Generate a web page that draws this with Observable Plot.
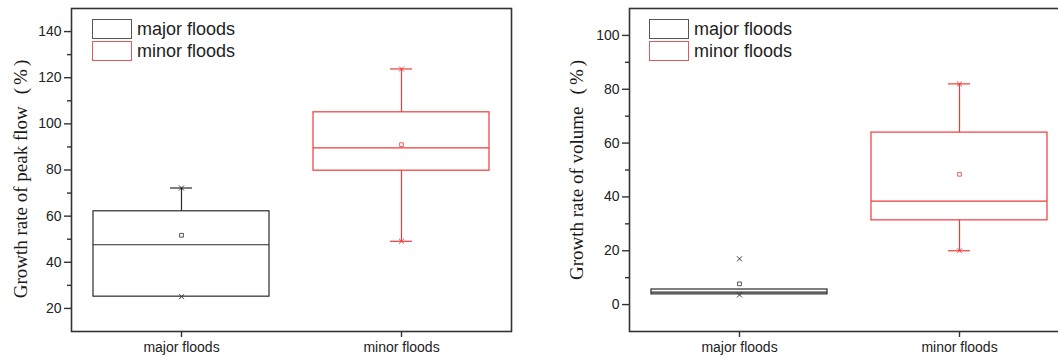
<!DOCTYPE html>
<html>
<head>
<meta charset="utf-8">
<script src="https://cdn.jsdelivr.net/npm/d3@7"></script>
<script src="https://cdn.jsdelivr.net/npm/@observablehq/plot@0.6"></script>
<style>
  html, body { margin: 0; padding: 0; background: #fff; overflow: hidden; }
  #root { position: relative; width: 1058px; height: 357px; overflow: hidden; background: #fff; }
  .panel { position: absolute; top: 0; height: 357px; }
  .ylab { position: absolute; white-space: nowrap; font-family: "Liberation Serif", "Times New Roman", serif; font-size: 19px; line-height: 20px; color: #1a1a1a; transform: translate(-50%, -50%) rotate(-90deg); }
  .ylab .po { margin-left: 12px; margin-right: 3px; }
  .ylab .pc { margin-left: 3px; margin-right: 6px; }
  .leg { position: absolute; font-family: "Liberation Sans", Arial, sans-serif; font-size: 18px; color: #222; }
  .legbox { position: absolute; width: 38px; height: 18px; box-sizing: content-box; }
  .legtxt { position: absolute; white-space: nowrap; line-height: 20px; }
</style>
</head>
<body>
<div id="root"></div>
<script>
// ---- data ----
const categories = ["major floods", "minor floods"];
const colors = ["#2a2a2a", "#f03a3a"];

// Panel 1: growth rate of peak flow (%)
const peakQ1 = [25.1, 79.7];
const peakMedian = [47.6, 89.6];
const peakQ3 = [62.1, 105.0];
const peakLow = [25.1, 49.1];
const peakHigh = [72.2, 123.8];
const peakMean = [51.7, 91.0];
const peakCrossMajor = [72.2, 25.1];
const peakCrossMinor = [123.8, 49.1];
const peakTicks = [20, 40, 60, 80, 100, 120, 140];
const peakMinorTicks = [30, 50, 70, 90, 110, 130];

// Panel 2: growth rate of volume (%)
const volQ1 = [3.8, 31.3];
const volMedian = [4.6, 38.4];
const volQ3 = [5.6, 63.9];
const volLow = [3.8, 20.0];
const volHigh = [5.6, 82.0];
const volMean = [7.7, 48.4];
const volCrossMajor = [17.0, 3.6];
const volCrossMinor = [82.0, 20.0];
const volTicks = [0, 20, 40, 60, 80, 100];
const volMinorTicks = [10, 30, 50, 70, 90];

const legendLabels = ["major floods", "minor floods"];
const yLabels = ["Growth rate of peak flow", "Growth rate of volume"];

function buildRows(q1, med, q3, lo, hi, mean) {
  return categories.map((c, i) => ({cat: c, q1: q1[i], median: med[i], q3: q3[i], lo: lo[i], hi: hi[i], mean: mean[i]}));
}
function buildCross(a, b) {
  return [...a.map(v => ({cat: categories[0], v})), ...b.map(v => ({cat: categories[1], v}))];
}

function makePanel(opts) {
  const rows = buildRows(...opts.stats);
  const crosses = buildCross(opts.crossA, opts.crossB);
  const bw = 176, capW = 22, capInset = (bw - capW) / 2;
  return Plot.plot({
    width: opts.width,
    height: 357,
    marginLeft: opts.marginLeft,
    marginRight: opts.marginRight,
    marginTop: 8,
    marginBottom: 26,
    style: {fontFamily: "Liberation Sans, Arial, sans-serif", fontSize: "14px", color: "#222", background: "white", maxWidth: "none", overflow: "hidden"},
    x: {type: "band", domain: categories, paddingInner: 0.2, paddingOuter: 0.1},
    y: {domain: opts.domain},
    color: {domain: categories, range: colors},
    marks: [
      Plot.ruleX(rows, {x: "cat", y1: "q3", y2: "hi", stroke: "cat", strokeWidth: 1.2}),
      Plot.ruleX(rows, {x: "cat", y1: "lo", y2: "q1", stroke: "cat", strokeWidth: 1.2}),
      Plot.tickY(rows.filter(d => d.hi > d.q3), {x: "cat", y: "hi", stroke: "cat", strokeWidth: 1.2, insetLeft: capInset, insetRight: capInset}),
      Plot.tickY(rows.filter(d => d.lo < d.q1), {x: "cat", y: "lo", stroke: "cat", strokeWidth: 1.2, insetLeft: capInset, insetRight: capInset}),
      Plot.rectY(rows, {x: "cat", y1: "q1", y2: "q3", stroke: "cat", fill: "none", strokeWidth: 1.2}),
      Plot.tickY(rows, {x: "cat", y: "median", stroke: "cat", strokeWidth: 1.2}),
      Plot.dot(rows, {x: "cat", y: "mean", symbol: "square", r: 2.1, stroke: "cat", fill: "white", strokeWidth: 0.8}),
      Plot.dot(crosses, {x: "cat", y: "v", symbol: "times", r: 2.4, stroke: "cat", strokeWidth: 0.9}),
      Plot.axisY({ticks: opts.ticks, tickSize: 7, tickPadding: 3, label: null, stroke: "#333", strokeWidth: 1.4, fontSize: 14}),
      Plot.axisY({ticks: opts.minorTicks, tickSize: 4, text: null, label: null, stroke: "#333", strokeWidth: 1.4}),
      Plot.axisX({tickSize: 6, tickPadding: 5, label: null, stroke: "#333", strokeWidth: 1.4, fontSize: 14}),
      Plot.frame({stroke: "#333", strokeWidth: 1.6})
    ]
  });
}

const root = document.getElementById("root");

function addPanel(left, width, plotOpts, ylabel, ylabX, ylabY, legX, legTextX) {
  const div = document.createElement("div");
  div.className = "panel";
  div.style.left = left + "px";
  div.style.width = width + "px";
  div.appendChild(makePanel(plotOpts));
  // y label
  const yl = document.createElement("div");
  yl.className = "ylab";
  yl.style.left = ylabX + "px";
  yl.style.top = ylabY + "px";
  yl.appendChild(document.createTextNode(ylabel));
  const p1 = document.createElement("span"); p1.className = "po"; p1.textContent = "(";
  const p2 = document.createElement("span"); p2.textContent = "%";
  const p3 = document.createElement("span"); p3.className = "pc"; p3.textContent = ")";
  yl.appendChild(p1); yl.appendChild(p2); yl.appendChild(p3);
  div.appendChild(yl);
  // legend
  const tops = [19, 41];
  const borders = ["#555", "#e05a5a"];
  legendLabels.forEach((lab, i) => {
    const b = document.createElement("div");
    b.className = "legbox";
    b.style.left = legX + "px";
    b.style.top = tops[i] + "px";
    b.style.border = "1.5px solid " + borders[i];
    div.appendChild(b);
    const t = document.createElement("div");
    t.className = "leg legtxt";
    t.style.left = legTextX + "px";
    t.style.top = tops[i] + "px";
    t.textContent = lab;
    div.appendChild(t);
  });
  root.appendChild(div);
}

addPanel(0, 529, {
  width: 529, marginLeft: 71, marginRight: 18, domain: [10, 150],
  stats: [peakQ1, peakMedian, peakQ3, peakLow, peakHigh, peakMean],
  crossA: peakCrossMajor, crossB: peakCrossMinor,
  ticks: peakTicks, minorTicks: peakMinorTicks
}, yLabels[0], 21, 176, 92, 137);

addPanel(529, 560, {
  width: 560, marginLeft: 100, marginRight: 20, domain: [-10, 110],
  stats: [volQ1, volMedian, volQ3, volLow, volHigh, volMean],
  crossA: volCrossMajor, crossB: volCrossMinor,
  ticks: volTicks, minorTicks: volMinorTicks
}, yLabels[1], 48, 167, 120, 165);
</script>
</body>
</html>
